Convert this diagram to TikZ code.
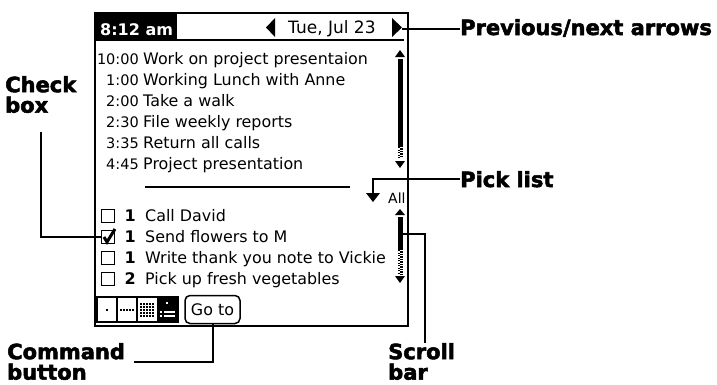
\documentclass[tikz,border=0pt]{standalone}
\usepackage{fontspec}
\setmainfont{DejaVu Sans}
\newfontfamily\callfont{DejaVu Sans}[BoldFeatures={FakeBold=2.5}]
\usetikzlibrary{positioning}

\newcommand{\palmtext}{\fontsize{15.9}{18}\selectfont}
\newcommand{\palmtime}{\fontsize{14.5}{18}\selectfont}
\newcommand{\palmbold}{\fontsize{16}{18}\selectfont\bfseries}
\newcommand{\calltext}{\callfont\fontsize{21}{20.5}\selectfont\bfseries}

\tikzset{
  palm/.style={font=\palmtext, inner sep=0pt},
  callout/.style={font=\calltext, align=left, inner sep=0pt},
  leader/.style={line width=2pt},
  chkbox/.style={draw, line width=1.5pt, minimum size=13pt, inner sep=0pt},
  thumb/.style={fill=black, minimum width=5pt, inner sep=0pt},
  track/.style={line width=2.5pt, dash pattern=on 1.25pt off 1.25pt},
  dotrow/.style={line width=1.5pt, dash pattern=on 1.5pt off 1.5pt},
}

\begin{document}
\begin{tikzpicture}[x=1pt,y=-1pt]
\useasboundingbox (0,0) rectangle (717,384);

% screen and title bar
\draw[line width=2pt] (95,12.5) rectangle (408,326);
\fill[black] (95,12.5) rectangle (177,40);
\node[palm,font=\palmbold,text=white,anchor=base west] (clock) at (100,35) {8:12 am};
\draw[line width=2.5pt] (95,40) -- (404,40);
\fill[black] (266,27.5) -- (275,18) -- (275,37) -- cycle;
\node[palm,font=\fontsize{17}{18}\selectfont,anchor=base west] (date) at (288,33) {Tue, Jul 23};
\fill[black] (402,27.5) -- (392,18) -- (392,37) -- cycle;
\coordinate (nextarr) at (402,29);

% appointments
\node[palm,font=\palmtime,anchor=base east] (t1) at (139,64) {10:00};
\node[palm,anchor=base west] (a1) at (143,64) {Work on project presentaion};
\node[palm,font=\palmtime,anchor=base east] (t2) at (139,85) {1:00};
\node[palm,anchor=base west] (a2) at (143,85) {Working Lunch with Anne};
\node[palm,font=\palmtime,anchor=base east] (t3) at (139,106) {2:00};
\node[palm,anchor=base west] (a3) at (143,106) {Take a walk};
\node[palm,font=\palmtime,anchor=base east] (t4) at (139,127) {2:30};
\node[palm,anchor=base west] (a4) at (143,127) {File weekly reports};
\node[palm,font=\palmtime,anchor=base east] (t5) at (139,148) {3:35};
\node[palm,anchor=base west] (a5) at (143,148) {Return all calls};
\node[palm,font=\palmtime,anchor=base east] (t6) at (139,169) {4:45};
\node[palm,anchor=base west] (a6) at (143,169) {Project presentation};

% upper scroll bar
\fill[black] (400,50) -- (405,57) -- (395,57) -- cycle;
\node[thumb,minimum height=88pt] (thumbA) at (400,103) {};
\draw[track] (398.75,147) -- (398.75,158);
\draw[track,dash phase=1.25pt] (401.25,147) -- (401.25,158);
\fill[black] (400,168) -- (405,161) -- (395,161) -- cycle;

% divider and pick list
\draw[line width=1.5pt] (145,187) -- (350,187);
\fill[black] (366,193) -- (380,193) -- (373,202) -- cycle;
\coordinate (pickarr) at (373,193);
\node[palm,font=\fontsize{14}{16}\selectfont,anchor=base west] (all) at (388,203) {All};

% to do items
\node[chkbox] (chk1) at (108,216) {};
\node[palm,font=\palmbold,anchor=base east] (p1) at (136,221) {1};
\node[palm,anchor=base west] (d1) at (145,221) {Call David};
\node[chkbox] (chk2) at (108,237) {};
\draw[line width=3pt] (chk2.center) ++(-4,0) -- ++(3,5) -- ++(8,-13);
\node[palm,font=\palmbold,anchor=base east] (p2) at (136,242) {1};
\node[palm,anchor=base west] (d2) at (145,242) {Send flowers to M};
\node[chkbox] (chk3) at (108,258) {};
\node[palm,font=\palmbold,anchor=base east] (p3) at (136,263) {1};
\node[palm,anchor=base west] (d3) at (145,263) {Write thank you note to Vickie};
\node[chkbox] (chk4) at (108,279) {};
\node[palm,font=\palmbold,anchor=base east] (p4) at (136,284) {2};
\node[palm,anchor=base west] (d4) at (145,284) {Pick up fresh vegetables};

% lower scroll bar
\fill[black] (400,209) -- (405,215) -- (395,215) -- cycle;
\node[thumb,minimum height=33pt] (thumbB) at (400,233.5) {};
\draw[track] (398.75,250) -- (398.75,275);
\draw[track,dash phase=1.25pt] (401.25,250) -- (401.25,275);
\fill[black] (400,283) -- (405,276) -- (395,276) -- cycle;

% view buttons
\draw[line width=1.5pt] (97,297) rectangle (178,322);
\draw[line width=1.5pt] (117,297) -- (117,322);
\draw[line width=1.5pt] (137,297) -- (137,322);
\fill[black] (157,297) rectangle (178,322);
\fill[black] (106,309) rectangle (108,311);
\draw[dotrow] (120,310) -- (135,310);
\foreach \y in {304,307,310,313,316}
  \draw[dotrow] (140,\y) -- (154,\y);
\fill[white] (166,302) rectangle (168,304);
\fill[white] (160,311) rectangle (162,313);
\fill[white] (160,315) rectangle (162,317);
\draw[white,line width=1.5pt] (164,312) -- (175,312);
\draw[white,line width=1.5pt] (164,316) -- (175,316);
\node[palm,draw,line width=1.5pt,rounded corners=5pt,minimum width=55pt,minimum height=28pt] (goto) at (212.5,309.5) {Go to};

% callouts
\node[callout,anchor=base west] (prevnext) at (460,35) {Previous/next arrows};
\node[callout,anchor=base west] (picklbl) at (460,187) {Pick list};
\node[callout,anchor=north west] (checklbl) at (5,76) {Check\\box};
\node[callout,anchor=north west] (cmdlbl) at (7,343) {Command\\button};
\node[callout,anchor=north west] (scrolllbl) at (388,343) {Scroll\\bar};

\draw[leader] (nextarr) -- (nextarr -| prevnext.west);
\draw[leader] (pickarr) |- (picklbl.west);
\draw[leader] (thumbB.east) -| ([xshift=3pt]scrolllbl.north);
\draw[leader,shorten <=19pt] (checklbl.south) |- (chk2.west);
\draw[leader,shorten >=9pt] (goto.south) |- (cmdlbl.east);

\end{tikzpicture}
\end{document}
